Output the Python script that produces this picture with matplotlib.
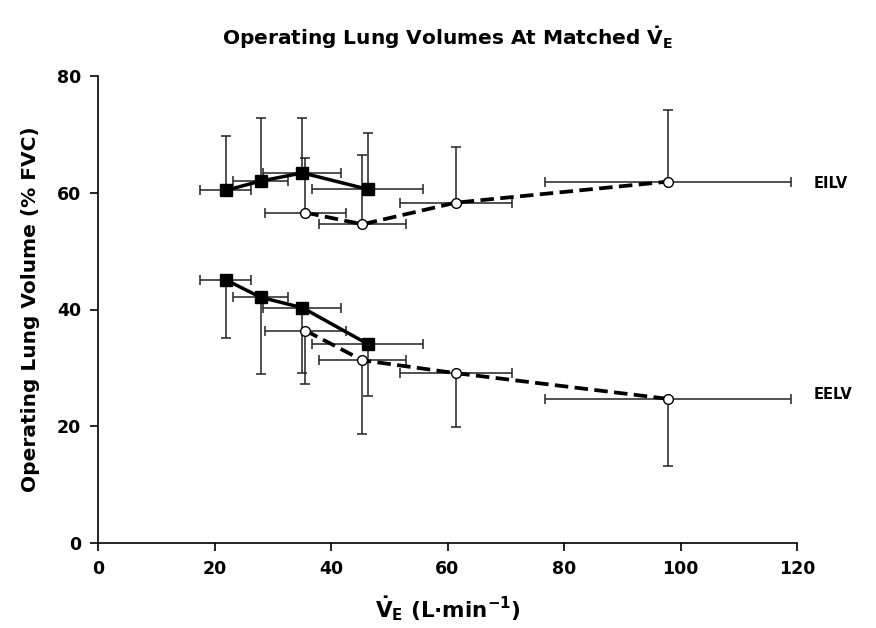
import matplotlib
matplotlib.use('Agg')
import matplotlib.pyplot as plt

# Data
ve_sq = [21.9, 27.9, 35.1, 46.3]
ve_sq_err = [4.4, 4.8, 6.7, 9.5]
eilv_sq = [60.4, 62.0, 63.4, 60.6]
eilv_sq_up = [9.4, 10.8, 9.4, 9.7]
eelv_sq = [45.1, 42.1, 40.3, 34.1]
eelv_sq_dn = [10.0, 13.1, 11.1, 8.9]

ve_ci = [35.6, 45.4, 61.4, 97.8]
ve_ci_err = [7.0, 7.5, 9.6, 21.1]
eilv_ci = [56.6, 54.6, 58.3, 61.9]
eilv_ci_up = [9.3, 11.9, 9.6, 12.3]
eelv_ci = [36.4, 31.3, 29.1, 24.7]
eelv_ci_dn = [9.1, 12.7, 9.3, 11.5]

xticks = [0, 20, 40, 60, 80, 100, 120]
yticks = [0, 20, 40, 60, 80]

plt.rcParams['font.family'] = ['DejaVu Sans']
plt.rcParams['font.weight'] = 'bold'
plt.rcParams['mathtext.fontset'] = 'custom'
plt.rcParams['mathtext.rm'] = 'DejaVu Sans:bold'
plt.rcParams['mathtext.bf'] = 'DejaVu Sans:bold'
plt.rcParams['mathtext.it'] = 'DejaVu Sans:bold'

fig = plt.figure(figsize=(8.76, 6.28), dpi=100)
ax = fig.add_axes([98/876, 1-543/628, (797-98)/876, (543-76)/628])

ebkw = dict(fmt='none', ecolor='#222222', elinewidth=1.1, capsize=3.8, capthick=1.1, zorder=2)

def zeros(a):
    return [0]*len(a)

for x, y, xe, yl, yu in [
    (ve_sq, eilv_sq, ve_sq_err, zeros(eilv_sq), eilv_sq_up),
    (ve_sq, eelv_sq, ve_sq_err, eelv_sq_dn, zeros(eelv_sq)),
    (ve_ci, eilv_ci, ve_ci_err, zeros(eilv_ci), eilv_ci_up),
    (ve_ci, eelv_ci, ve_ci_err, eelv_ci_dn, zeros(eelv_ci)),
]:
    ax.errorbar(x, y, xerr=xe, **ebkw)
    ax.errorbar(x, y, yerr=[yl, yu], **ebkw)

for y in (eilv_sq, eelv_sq):
    ax.plot(ve_sq, y, color='black', lw=2.5, zorder=3)
    ax.plot(ve_sq, y, ls='none', marker='s', ms=8, mfc='black', mec='black', zorder=5)

for y in (eilv_ci, eelv_ci):
    ax.plot(ve_ci, y, color='black', lw=2.7, dashes=(3.6, 1.7), zorder=3)
    ax.plot(ve_ci, y, ls='none', marker='o', ms=7, mfc='white', mec='black', mew=1.0, zorder=5)

ax.set_xlim(0, 120)
ax.set_ylim(0, 80)
ax.set_xticks(xticks)
ax.set_yticks(yticks)
ax.set_xticklabels([str(t) for t in xticks], fontsize=12.5, fontweight='bold')
ax.set_yticklabels([str(t) for t in yticks], fontsize=12.5, fontweight='bold')
ax.tick_params(direction='out', length=6, width=1.2, pad=6)
for s in ('top', 'right'):
    ax.spines[s].set_visible(False)
for s in ('left', 'bottom'):
    ax.spines[s].set_linewidth(1.2)

ax.text(122.9, 61.5, 'EILV', fontsize=10.5, fontweight='bold', va='center', ha='left', clip_on=False)
ax.text(122.9, 25.4, 'EELV', fontsize=10.5, fontweight='bold', va='center', ha='left', clip_on=False)

ax.set_title(r'Operating Lung Volumes At Matched $\dot{V}_E$', fontsize=14.5, fontweight='bold', pad=22)
ax.set_xlabel(r'$\dot{V}_E$ (L·min$^{-1}$)', fontsize=15.5, fontweight='bold', labelpad=12)
ax.set_ylabel('Operating Lung Volume (% FVC)', fontsize=14.5, fontweight='bold', labelpad=12)

fig.savefig('out.png', dpi=100)
